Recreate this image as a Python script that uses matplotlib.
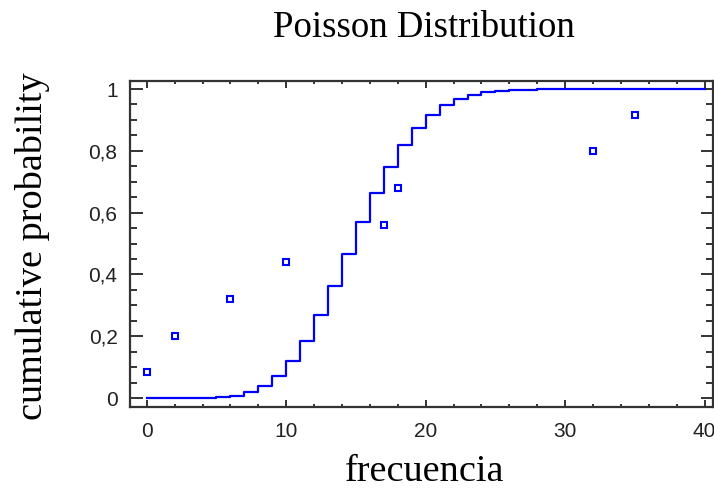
import matplotlib.pyplot as plt
from matplotlib.ticker import MultipleLocator, FuncFormatter

# Poisson cumulative probability (step curve), k = 0..40
k_values = list(range(0, 41))
cdf_values = [0.0, 0.0, 0.0, 0.0, 0.0009, 0.0028, 0.0076, 0.0180, 0.0374, 0.0699,
              0.1185, 0.1848, 0.2676, 0.3632, 0.4657, 0.5681, 0.6641, 0.7489,
              0.8195, 0.8752, 0.9170, 0.9469, 0.9673, 0.9805, 0.9888, 0.9938,
              0.9967, 0.9983, 0.9991, 0.9996, 0.9998, 0.9999, 1.0, 1.0, 1.0,
              1.0, 1.0, 1.0, 1.0, 1.0, 1.0]

# observed frequencies and their plotting positions
freq_obs = [0, 2, 6, 10, 17, 18, 32, 35]
prob_obs = [0.083, 0.202, 0.321, 0.440, 0.560, 0.679, 0.798, 0.917]

blue = '#0000ff'
frame = '#333333'

fig = plt.figure(figsize=(7.14, 4.88), dpi=100)
ax = fig.add_axes([130 / 714, 1 - 407 / 488, 583 / 714, 326 / 488])

ax.step(k_values, cdf_values, where='post', color=blue, lw=1.6)
ax.plot(freq_obs, prob_obs, linestyle='none', marker='s', markersize=4.8,
        markerfacecolor='white', markeredgecolor=blue, markeredgewidth=1.5)

ax.set_xlim(-1.2, 40.6)
ax.set_ylim(-0.029, 1.026)

ax.xaxis.set_major_locator(MultipleLocator(10))
ax.xaxis.set_minor_locator(MultipleLocator(2))
ax.yaxis.set_major_locator(MultipleLocator(0.2))
ax.yaxis.set_minor_locator(MultipleLocator(0.05))


def comma_fmt(v, pos):
    if abs(v - round(v)) < 1e-9:
        return '%d' % round(v)
    return ('%.1f' % v).replace('.', ',')


ax.yaxis.set_major_formatter(FuncFormatter(comma_fmt))

for s in ax.spines.values():
    s.set_color(frame)
    s.set_linewidth(1.6)

tick_font = ['Liberation Sans Narrow', 'Liberation Sans', 'DejaVu Sans']
ax.tick_params(axis='x', which='major', direction='in', length=5, width=1.4,
               top=True, color=frame, pad=11, labelsize=15, labelcolor='#222222')
ax.tick_params(axis='x', which='minor', direction='in', length=2.5, width=1.4,
               top=True, color=frame)
ax.tick_params(axis='y', which='major', direction='in', length=9, width=1.4,
               right=True, color=frame, pad=9, labelsize=15, labelcolor='#222222')
ax.tick_params(axis='y', which='minor', direction='in', length=5, width=1.4,
               right=True, color=frame)
for lab in ax.get_xticklabels() + ax.get_yticklabels():
    lab.set_family(tick_font)

serif = ['Liberation Serif', 'DejaVu Serif']
fig.text(424 / 714, 1 - 37 / 488, 'Poisson Distribution', family=serif,
         fontsize=26.5, ha='center', va='baseline')
fig.text(425 / 714, 1 - 481 / 488, 'frecuencia', family=serif,
         fontsize=27.5, ha='center', va='baseline')
fig.text(33 / 714, 1 - 246 / 488, 'cumulative probability', family=serif,
         fontsize=27.5, ha='center', va='center', rotation=90)

fig.savefig('out.png', dpi=100)
